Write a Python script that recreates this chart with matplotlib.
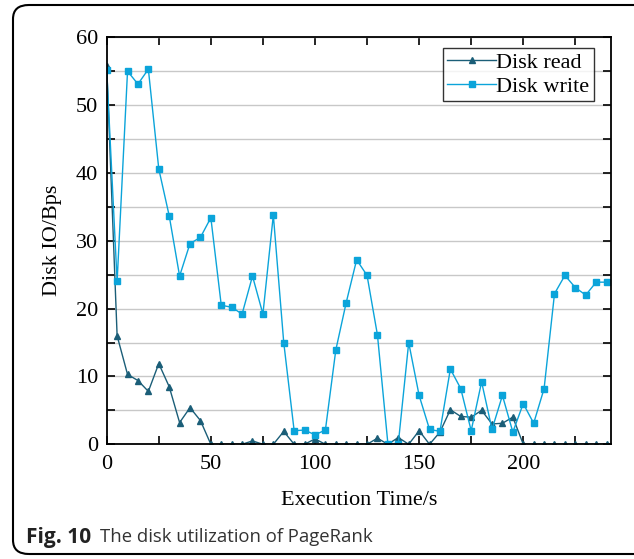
import matplotlib
matplotlib.use("Agg")
import matplotlib.pyplot as plt
from matplotlib.patches import FancyBboxPatch

# time axis (s), one sample every 5 s
time_s = list(range(0, 241, 5))

disk_read = [55.8, 16.0, 10.3, 9.4, 7.8, 11.9, 8.5, 3.2, 5.4, 3.5,
             0, 0, 0, 0, 0.5, 0, 0, 1.9, 0, 0,
             0.8, 0, 0, 0, 0, 0, 0.9, 0, 1.0, 0,
             2.0, 0, 1.8, 5.1, 4.1, 4.0, 5.0, 3.0, 3.1, 4.0,
             0, 0, 0, 0, 0, 0, 0, 0, 0]

disk_write = [55.2, 24.0, 55.0, 53.1, 55.3, 40.6, 33.7, 24.8, 29.6, 30.5,
              33.4, 20.5, 20.2, 19.2, 24.8, 19.2, 33.8, 15.0, 2.0, 2.1,
              1.4, 2.1, 13.9, 20.9, 27.2, 24.9, 16.1, 0.1, 0.1, 15.0,
              7.2, 2.2, 1.9, 11.1, 8.2, 2.0, 9.2, 2.2, 7.2, 1.8,
              6.0, 3.1, 8.2, 22.2, 24.9, 23.1, 22.0, 23.9, 23.9]

read_color = "#1b5e78"
write_color = "#0ba4da"

plt.rcParams["font.family"] = ["Liberation Serif", "DejaVu Serif"]

fig = plt.figure(figsize=(6.34, 5.59), dpi=100)
ax = fig.add_axes([0.1683, 0.2052, 0.7950, 0.7281])

ax.plot(time_s, disk_read, color=read_color, marker="^", markersize=5,
        linewidth=1.0, label="Disk read")
ax.plot(time_s, disk_write, color=write_color, marker="s", markersize=4.5,
        linewidth=1.0, label="Disk write")

ax.set_xlim(0, 242)
ax.set_ylim(0, 60)
ax.set_xticks([0, 50, 100, 150, 200])
ax.set_xticks([25, 75, 125, 175, 225], minor=True)
ax.set_yticks([0, 10, 20, 30, 40, 50, 60])
ax.set_yticks([5, 15, 25, 35, 45, 55], minor=True)
ax.grid(axis="y", which="both", color="#c8c8c8", linewidth=1.0)
ax.set_axisbelow(True)
ax.tick_params(which="both", direction="in", top=True, right=True,
               labelsize=16, width=1.2)
ax.tick_params(which="major", length=6)
ax.tick_params(which="minor", length=6)
ax.tick_params(axis="x", which="major", pad=8)
ax.tick_params(axis="y", which="major", pad=6)
for s in ax.spines.values():
    s.set_linewidth(1.3)

ax.set_xlabel("Execution Time/s", fontsize=16, labelpad=12)
ax.set_ylabel("Disk IO/Bps", fontsize=16, labelpad=10)

leg = ax.legend(loc="upper right", bbox_to_anchor=(0.975, 0.985), fontsize=16,
                frameon=True, fancybox=False, edgecolor="black",
                handlelength=2.2, handletextpad=0.0, borderpad=0.2,
                labelspacing=0.15, borderaxespad=0.2)
leg.get_frame().set_linewidth(1.0)

# rounded outer frame of the figure panel
frame = FancyBboxPatch((13 / 634, 5 / 559), 640 / 634, 549 / 559,
                       boxstyle="round,pad=0,rounding_size=0.025",
                       transform=fig.transFigure, fill=False,
                       edgecolor="black", linewidth=1.5)
fig.patches.append(frame)

cap_font = ["Open Sans", "DejaVu Sans"]
fig.text(26 / 634, 1 - 537 / 559, "Fig. 10", fontsize=15, fontweight="bold",
         family=cap_font, va="center", color="#222222")
fig.text(100 / 634, 1 - 537 / 559, "The disk utilization of PageRank", fontsize=13.3,
         family=cap_font, va="center", color="#333333")

fig.savefig("out.png", dpi=100)
